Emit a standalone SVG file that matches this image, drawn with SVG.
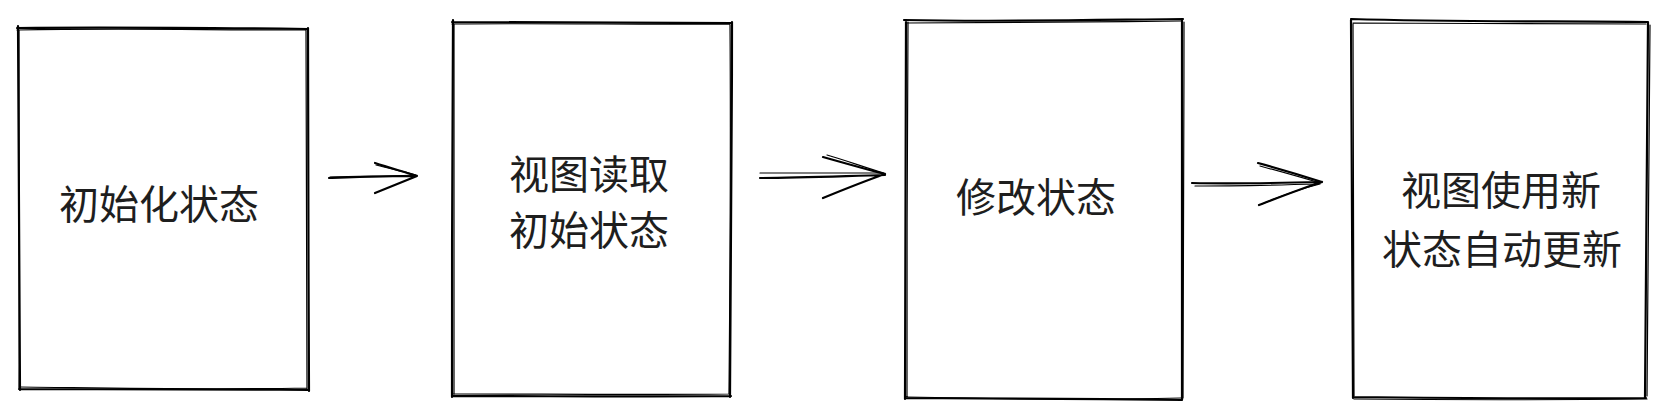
<svg xmlns="http://www.w3.org/2000/svg" width="1667" height="420" viewBox="0 0 1667 420">
<style>
.s{fill:none;stroke:#000;stroke-width:2.2;stroke-linecap:round;stroke-linejoin:round}
.t{stroke-width:1.2}
.lbl{font-family:"Noto Sans CJK SC","Noto Sans",sans-serif;font-size:40px;fill:#1e1e1e;text-anchor:middle}
</style>
<rect width="1667" height="420" fill="#fff"/>
<g id="node1">
<path class="s" d="M17 28 C110 27 220 28 308 29 M308 28 C309 150 308 270 309 391 M309 390 C210 389 110 389 19 389 M20 390 C19 270 18 150 18 26"/>
<path class="s t" d="M17 30 C120 28 200 30 306 30 M306 30 C307 150 307 270 307 389 M307 388 C200 390 110 388 20 387 M19 388 C20 260 19 130 19 30"/>
<text class="lbl" x="159" y="219">初始化状态</text>
</g>
<g id="node2">
<path class="s" d="M452 22 C550 22 640 23 732 23 M732 22 C732 150 731 280 730 397 M731 396 C640 397 550 396 452 396 M452 397 C452 270 452 150 453 20"/>
<path class="s t" d="M452 24 C560 23 640 25 730 24 M730 25 C731 150 730 280 729 394 M729 394 C640 395 540 394 453 394 M454 395 C453 260 454 140 454 24"/>
<text class="lbl" x="589" y="189">视图读取</text>
<text class="lbl" x="589" y="245">初始状态</text>
</g>
<g id="node3">
<path class="s" d="M904 20 C1000 22 1090 20 1183 19 M1182 19 C1183 150 1182 280 1182 400 M1182 400 C1090 399 1000 398 905 398 M905 399 C905 270 906 150 906 21"/>
<path class="s t" d="M906 23 C1000 23 1090 22 1181 21 M1184 22 C1184 150 1183 280 1183 398 M1181 398 C1090 400 1000 399 906 397 M907 397 C907 270 907 150 908 22"/>
<text class="lbl" x="1036" y="212">修改状态</text>
</g>
<g id="node4">
<path class="s" d="M1351 19 C1450 22 1550 21 1648 22 M1648 22 C1647 150 1646 280 1645 398 M1646 398 C1550 399 1450 398 1353 397 M1353 398 C1352 270 1352 150 1351 20"/>
<path class="s t" d="M1353 23 C1450 24 1550 23 1646 24 M1650 25 C1649 150 1648 280 1647 396 M1647 399 C1550 400 1450 400 1354 399 M1354 396 C1354 270 1353 150 1353 24"/>
<text class="lbl" x="1501" y="205">视图使用新</text>
<text class="lbl" x="1502" y="264">状态自动更新</text>
</g>
<g id="connectors">
<path class="s" d="M329 178 C360 177 390 176 417 176 M375 163 C390 168 405 172 417 176 M375 193 C390 187 405 181 417 176"/>
<path class="s t" d="M330 177 C360 176 390 176 415 175 M376 165 C392 169 405 172 416 175"/>
<path class="s" d="M760 178 C800 178 845 176 885 175 M823 157 C845 163 865 169 885 174 M823 198 C845 189 865 181 885 174"/>
<path class="s t" d="M760 173 C800 173 845 173 884 173 M827 155 C848 161 866 168 884 173"/>
<path class="s" d="M1192 183 C1235 184 1280 183 1322 182 M1258 163 C1280 169 1300 175 1322 182 M1259 205 C1280 197 1300 189 1322 182"/>
<path class="s t" d="M1195 186 C1235 186 1280 185 1320 184 M1260 166 C1282 172 1300 177 1320 183 M1262 204 C1283 195 1300 189 1320 184"/>
</g>
</svg>
